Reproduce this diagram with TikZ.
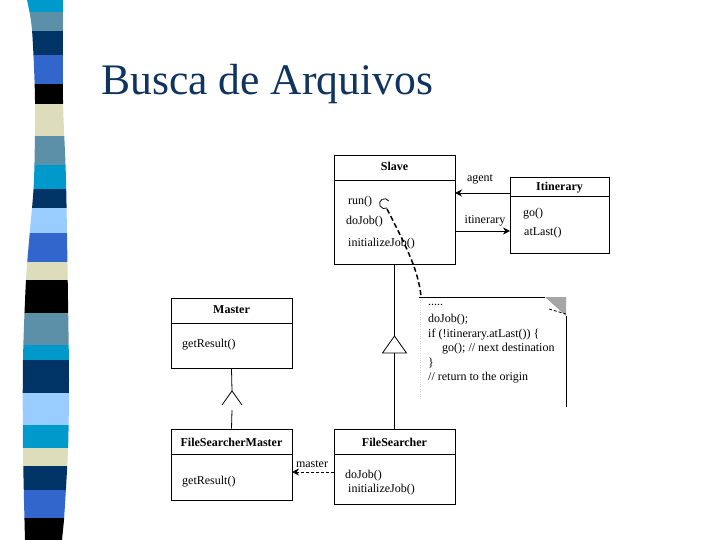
\documentclass[tikz,border=0pt]{standalone}
\usepackage{fontspec}
\setmainfont{Liberation Serif}
\usepackage{xcolor}
\usetikzlibrary{arrows.meta}
\usetikzlibrary{positioning,backgrounds}
\pgfdeclarelayer{edgelayer}
\pgfdeclarelayer{nodelayer}
\pgfsetlayers{background,edgelayer,nodelayer,main}
\newcommand{\umlfont}{\fontsize{12}{14}\selectfont}
\definecolor{titleblue}{RGB}{16,52,96}
\definecolor{stcyan}{RGB}{0,153,204}
\definecolor{ststeel}{RGB}{92,143,168}
\definecolor{stnavy}{RGB}{0,51,102}
\definecolor{stroyal}{RGB}{51,102,204}
\definecolor{stbeige}{RGB}{221,221,187}
\definecolor{stlight}{RGB}{153,204,255}
\tikzstyle{none}=[inner sep=0mm]
\tikzstyle{classbox}=[draw=black,line width=0.8pt,fill=white,inner sep=0pt]
\tikzstyle{classname}=[font=\umlfont\bfseries,anchor=base,inner sep=0pt]
\tikzstyle{member}=[font=\umlfont,anchor=base west,inner sep=0pt]
\tikzstyle{rolelabel}=[font=\umlfont,anchor=base,inner sep=0pt]
\tikzstyle{assoc}=[-{Stealth[length=7pt,width=7pt]},line width=0.8pt]
\tikzstyle{dassoc}=[assoc,dashed,dash pattern=on 3pt off 2pt]
\tikzstyle{link}=[line width=0.8pt]

\begin{document}
\begin{tikzpicture}[x=1pt,y=-1pt]
	\begin{pgfonlayer}{background}
		\fill[white] (0,0) rectangle (720,540);
	\end{pgfonlayer}
	\useasboundingbox (0,0) rectangle (720,540);
	% stripe band
	\begin{scope}
		\clip plot[smooth] coordinates {(27,0) (32,30) (35,100) (34,180) (30,230) (26,280) (23,360) (23,450) (25,540)}
			-- (62,540) -- plot[smooth] coordinates {(64,520) (68,450) (69,380) (68,300) (66,180) (63,100) (63,0)} -- cycle;
		\foreach \ya/\yb/\col in {0/12/stcyan, 12/31/ststeel, 31/55/stnavy, 55/84/stroyal, 84/104/black,
			104/136/stbeige, 136/165/ststeel, 165/189/stcyan, 189/208/stnavy, 208/233/stlight, 233/262/stroyal,
			262/280/stbeige, 280/313/black, 313/345/ststeel, 345/360/stcyan, 360/393/stnavy, 393/425/stlight,
			425/448/stcyan, 448/466/stbeige, 466/490/stnavy, 490/518/stroyal, 518/540/black}
			\fill[\col] (0,\ya) rectangle (80,\yb);
	\end{scope}
	\node [anchor=base west,inner sep=0pt,text=titleblue,font=\fontsize{43.6}{48}\selectfont] (title) at (101,95) {Busca de Arquivos};
	\begin{pgfonlayer}{nodelayer}
		\node [style=classbox,minimum width=121pt,minimum height=109pt] (slave) at (394.5,209.5) {};
		\node [style=classbox,minimum width=99pt,minimum height=76pt] (itin) at (559.5,215) {};
		\node [style=classbox,minimum width=121pt,minimum height=70pt] (master) at (231.5,333) {};
		\node [style=classbox,minimum width=121pt,minimum height=71pt] (fsm) at (231.5,464.5) {};
		\node [style=classbox,minimum width=121pt,minimum height=75pt] (fs) at (394.5,466.5) {};
	\end{pgfonlayer}
	\node [style=classname] (slaveT) at (394.5,171) {Slave};
	\node [style=classname] (itinT) at (559.5,191) {Itinerary};
	\node [style=classname] (masterT) at (231.5,313) {Master};
	\node [style=classname] (fsmT) at (231.5,446) {FileSearcherMaster};
	\node [style=classname] (fsT) at (394.5,446) {FileSearcher};
	\node [style=member] (run) at (348,205) {run()};
	\node [style=member] (slaveJob) at (346,225) {doJob()};
	\node [style=member] (slaveInit) at (348,247) {initializeJob()};
	\node [style=member] (go) at (523,216) {go()};
	\node [style=member] (atLast) at (524,236) {atLast()};
	\node [style=member] (masterRes) at (182,347) {getResult()};
	\node [style=member] (fsmRes) at (182,484) {getResult()};
	\node [style=member] (fsJob) at (345,478) {doJob()};
	\node [style=member] (fsInit) at (348,492) {initializeJob()};
	\node [style=rolelabel] (agentL) at (480,182) {agent};
	\node [style=rolelabel] (itinL) at (485,224) {itinerary};
	\node [style=rolelabel] (masterL) at (312,467) {master};
	\node [style=none] (agentA) at (510,193) {};
	\node [style=none] (agentB) at (455,193) {};
	\node [style=none] (itinA) at (455,231) {};
	\node [style=none] (itinB) at (510,231) {};
	\node [style=none] (mastA) at (334,472) {};
	\node [style=none] (mastB) at (292,472) {};
	\node [style=none] (runpin) at (383,203) {};
	\coordinate (genApex) at (394.5,336);
	\coordinate (genBase) at (394.5,353);
	\coordinate (mgApex) at (232,391);
	\coordinate (mgBase) at (232,410);
	\coordinate (noteCorner) at (421,296);
	% dividers
	\draw [style=link] ([yshift=-26pt]slave.north west) -- ([yshift=-26pt]slave.north east);
	\draw [style=link] ([yshift=-20pt]itin.north west) -- ([yshift=-20pt]itin.north east);
	\draw [style=link] ([yshift=-26pt]master.north west) -- ([yshift=-26pt]master.north east);
	\draw [style=link] ([yshift=-26pt]fsm.north west) -- ([yshift=-26pt]fsm.north east);
	\draw [style=link] ([yshift=-26pt]fs.north west) -- ([yshift=-26pt]fs.north east);
	\begin{pgfonlayer}{edgelayer}
		% associations
		\draw [style=assoc] (agentA.center) to (agentB.center);
		\draw [style=assoc] (itinA.center) to (itinB.center);
		\draw [style=dassoc] (mastA.center) to (mastB.center);
		% generalizations
		\draw [style=link] (slave.south) to (genApex);
		\draw [style=link] (genBase) to (fs.north);
		\draw [style=link] (genApex) -- (382.5,353) -- (406.5,353) -- cycle;
		\draw [style=link] (master.south) to (mgApex);
		\draw [style=link] (222,405) -- (mgApex) -- (242,405);
		\draw [style=link] (mgBase) to (fsm.north);
	\end{pgfonlayer}
	% note
	\draw [line width=0.8pt] (419,297) -- (545,297);
	\fill [gray!70] (545,297) -- (566,297) -- (566,316) -- cycle;
	\draw [line width=0.8pt,dashed,dash pattern=on 3pt off 2pt] (549,309) -- (566,314);
	\draw [line width=0.8pt] (566,316) -- (566,407);
	\draw [gray!35,dotted] (420,300) -- (420,400);
	\node [style=member] (n1) at (428,305) {.....};
	\node [style=member] (n2) at (428,322) {doJob();};
	\node [style=member] (n3) at (428,337) {if (!itinerary.atLast()) \{};
	\node [style=member] (n4) at (442,351) {go(); // next destination};
	\node [style=member] (n5) at (428,366) {\}};
	\node [style=member] (n6) at (428,380) {// return to the origin};
	\draw [line width=0.8pt] (387,208) arc[start angle=-60,end angle=-330,radius=5pt];
	\draw [line width=1.5pt,dashed,dash pattern=on 5pt off 3pt] (runpin.center) ++(4,6) .. controls (408,250) and (418,270) .. (noteCorner);
\end{tikzpicture}
\end{document}
